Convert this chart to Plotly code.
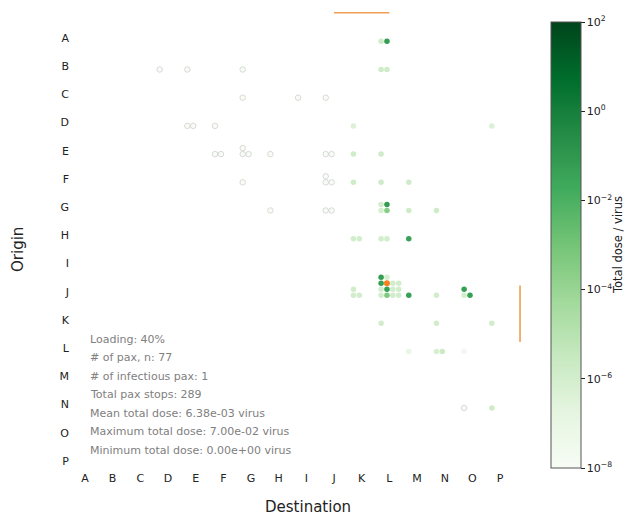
import math
import plotly.graph_objects as go

letters = list("ABCDEFGHIJKLMNOP")

# One entry per (origin, destination) cell; doses per passenger in that cell.
# None marks the infectious passenger; 0.0 means no dose.
cell_origin = ["A",
               "B", "B", "B", "B",
               "C", "C", "C",
               "D", "D", "D", "D",
               "E", "E", "E", "E", "E", "E",
               "F", "F", "F", "F", "F",
               "G", "G", "G", "G", "G",
               "H", "H", "H",
               "J", "J", "J", "J", "J",
               "K", "K", "K",
               "L", "L", "L",
               "N", "N"]
cell_dest = ["L",
             "D", "E", "G", "L",
             "G", "I", "J",
             "E", "F", "K", "P",
             "F", "G", "H", "J", "K", "L",
             "G", "J", "K", "L", "M",
             "H", "J", "L", "M", "N",
             "K", "L", "M",
             "K", "L", "M", "N", "O",
             "L", "N", "P",
             "M", "N", "O",
             "O", "P"]
cell_doses = [
    [1.5e-6, 6.0e-2],
    [0.0], [0.0], [0.0], [1.5e-6, 1.5e-6],
    [0.0], [0.0], [0.0],
    [0.0, 0.0], [0.0], [5e-7], [5e-7],
    [0.0, 0.0], [0.0, 0.0, 0.0], [0.0], [0.0, 0.0], [1.5e-6], [1.5e-6],
    [0.0], [0.0, 0.0, 0.0], [1.5e-6], [1.5e-6], [1.5e-6],
    [0.0], [0.0, 0.0], [8e-7, 3e-4, 1.2e-6, 7.0e-2], [1.5e-6], [1.5e-6],
    [1.2e-6, 1.2e-6], [1.2e-6, 1.2e-6], [4.0e-2],
    [1.2e-6, 1.2e-6, 1.2e-6],
    [1.2e-6, 5e-4, 1.2e-6, 1.2e-6,
     1.2e-6, 4.5e-2, 1.2e-6, 1.2e-6,
     5.0e-2, None, 1.2e-6, 1.2e-6,
     5.5e-2, 8e-7],
    [4.5e-2], [1.2e-6], [1.2e-6, 5.0e-2, 5.0e-2],
    [1.2e-6], [1.2e-6], [1.2e-6],
    [1e-7], [8e-7, 2e-6], [3e-8],
    [0.0], [1.5e-6],
]

loading_pct = 40
n_pax = 77
n_infectious = 1
total_stops = 289
mean_dose = 6.38e-3
max_dose = 7.00e-2
min_dose = 0.0

greens = ["rgb(247,252,245)", "rgb(229,245,224)", "rgb(199,233,192)",
          "rgb(161,217,155)", "rgb(116,196,118)", "rgb(65,171,93)",
          "rgb(35,139,69)", "rgb(0,109,44)", "rgb(0,68,27)"]
colorscale = [[i / (len(greens) - 1), c] for i, c in enumerate(greens)]
LOG_MIN, LOG_MAX = -8, 2

# slot layout inside a cell
X0, Y0, STEP = -0.30, 0.12, 0.212

xs, ys, cs, lw, lc = [], [], [], [], []
inf_x, inf_y = [], []
for o, d, vals in zip(cell_origin, cell_dest, cell_doses):
    oi, di = letters.index(o), letters.index(d)
    ncol = math.ceil(math.sqrt(len(vals)))
    for k, v in enumerate(vals):
        col, row = k % ncol, k // ncol
        x = di + X0 + col * STEP
        y = oi + Y0 - row * STEP
        if v is None:
            inf_x.append(x)
            inf_y.append(y)
            continue
        xs.append(x)
        ys.append(y)
        if v <= 0:
            cs.append(LOG_MIN)
            lw.append(0.8)
            lc.append("#cfcfcf")
        else:
            cs.append(max(LOG_MIN, math.log10(v)))
            lw.append(0)
            lc.append("rgba(0,0,0,0)")

# pixel geometry
W, H = 624, 516
ML, MR, MT, MB = 70, 94, 8, 46
PW, PH = W - ML - MR, H - MT - MB

def px_x(p):
    return (p - ML) / PW

def px_y(p):
    return (H - MB - p) / PH

cb_x = px_x(551)
cb_y = px_y(468)
cb_len = (468 - 21.7) / PH
cb_w = 30

fig = go.Figure()
fig.add_trace(go.Scatter(
    x=xs, y=ys, mode="markers",
    marker=dict(size=5.5, color=cs, colorscale=colorscale, cmin=LOG_MIN, cmax=LOG_MAX,
                line=dict(width=lw, color=lc),
                colorbar=dict(
                    x=cb_x, xanchor="left", xpad=0,
                    y=cb_y, yanchor="bottom", ypad=0,
                    len=cb_len, lenmode="fraction", thickness=cb_w,
                    outlinewidth=1, outlinecolor="#555",
                    tickvals=[-8, -6, -4, -2, 0, 2],
                    ticktext=["10<sup>\u22128</sup>", "10<sup>\u22126</sup>", "10<sup>\u22124</sup>",
                              "10<sup>\u22122</sup>", "10<sup>0</sup>", "10<sup>2</sup>"],
                    ticks="outside", ticklen=3.5, tickcolor="#222",
                    tickfont=dict(size=11, color="#222"),
                )),
    showlegend=False, hoverinfo="skip"))
fig.add_trace(go.Scatter(
    x=inf_x, y=inf_y, mode="markers",
    marker=dict(size=6, color="#f58220"), showlegend=False, hoverinfo="skip"))

# infectious passenger's trip indicators
inf_o, inf_d = "J", "L"
oi, di = letters.index(inf_o), letters.index(inf_d)
fig.add_shape(type="line", x0=oi, x1=di, y0=-0.89, y1=-0.89,
              line=dict(color="#f0a050", width=1.6))
fig.add_shape(type="line", x0=15.72, x1=15.72, y0=oi - 0.22, y1=di - 0.22,
              line=dict(color="#f0a050", width=1.6))

# max / mean lines on the colorbar
def cb_pos(v):
    return cb_y + (math.log10(v) - LOG_MIN) / (LOG_MAX - LOG_MIN) * cb_len

fig.add_shape(type="line", xref="paper", yref="paper", x0=cb_x, x1=cb_x + cb_w / PW,
              y0=cb_pos(max_dose), y1=cb_pos(max_dose), line=dict(color="#1f4a2c", width=1))
fig.add_shape(type="line", xref="paper", yref="paper", x0=cb_x, x1=cb_x + cb_w / PW,
              y0=cb_pos(mean_dose), y1=cb_pos(mean_dose), line=dict(color="rgba(190,120,90,0.6)", width=1))

info = [f"Loading: {loading_pct}%",
        f"# of pax, n: {n_pax}",
        f"# of infectious pax: {n_infectious}",
        f"Total pax stops: {total_stops}",
        f"Mean total dose: {mean_dose:.2e} virus",
        f"Maximum total dose: {max_dose:.2e} virus",
        f"Minimum total dose: {min_dose:.2e} virus"]
for i, t in enumerate(info):
    fig.add_annotation(text=t, xref="paper", yref="paper", x=px_x(88), y=px_y(339.3 + i * 18.45),
                       xanchor="left", yanchor="middle", showarrow=False,
                       font=dict(size=11, color="#808080"))

fig.add_annotation(text="Origin", xref="paper", yref="paper", x=px_x(18), y=px_y(250),
                   textangle=-90, showarrow=False, xanchor="center", yanchor="middle",
                   font=dict(size=15, color="#222"))
fig.add_annotation(text="Destination", xref="paper", yref="paper", x=px_x(308), y=px_y(507),
                   showarrow=False, xanchor="center", yanchor="middle",
                   font=dict(size=15, color="#222"))
fig.add_annotation(text="Total dose / virus", xref="paper", yref="paper", x=px_x(618), y=px_y(245),
                   textangle=-90, showarrow=False, xanchor="center", yanchor="middle",
                   font=dict(size=11.5, color="#222"))

fig.update_xaxes(range=[-0.54, 16.08], tickmode="array", tickvals=list(range(16)), ticktext=letters,
                 showgrid=False, zeroline=False, showline=False, ticks="", automargin=False,
                 tickfont=dict(size=11, color="#222"))
fig.update_yaxes(range=[15.32, -1.06], tickmode="array", tickvals=list(range(16)), ticktext=letters,
                 showgrid=False, zeroline=False, showline=False, ticks="", automargin=False,
                 tickfont=dict(size=11, color="#222"))

fig.update_layout(width=W, height=H,
                  margin=dict(l=ML, r=MR, t=MT, b=MB, autoexpand=False),
                  plot_bgcolor="white", paper_bgcolor="white",
                  font=dict(family="DejaVu Sans"))
fig.write_html("out.html", config={"displayModeBar": False},
               post_script="document.body.style.margin='0';")
